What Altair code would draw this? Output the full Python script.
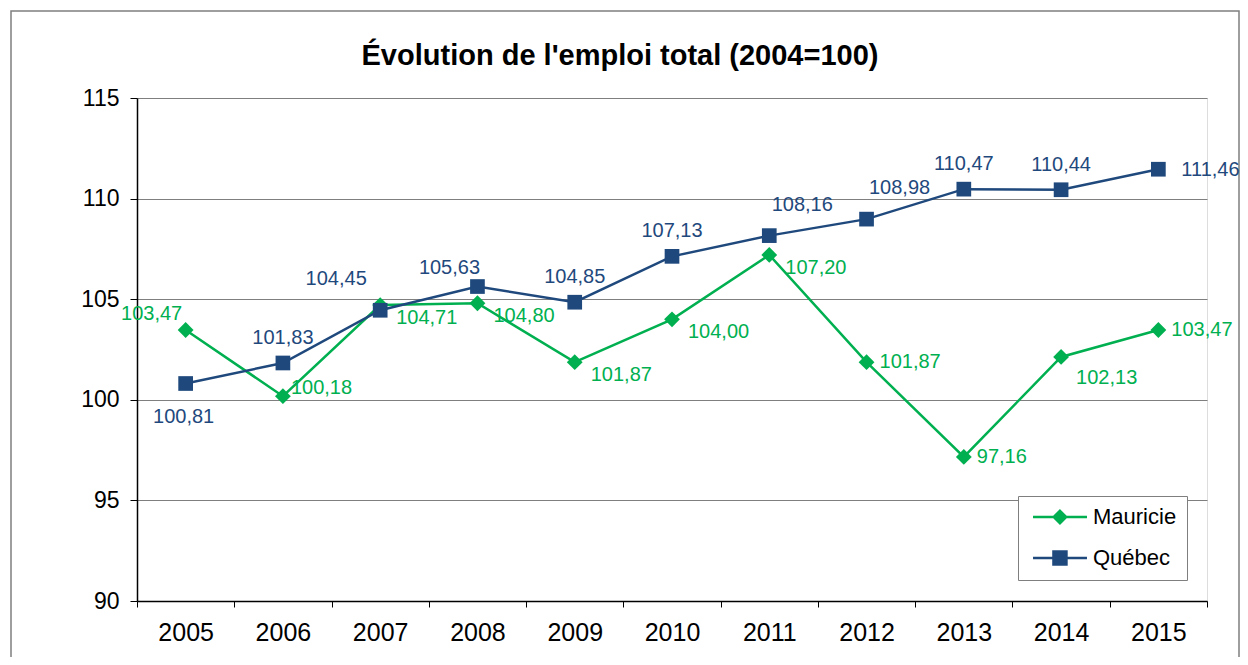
import altair as alt
import pandas as pd

years = ["2005", "2006", "2007", "2008", "2009", "2010", "2011", "2012", "2013", "2014", "2015"]
mauricie = [103.47, 100.18, 104.71, 104.80, 101.87, 104.00, 107.20, 101.87, 97.16, 102.13, 103.47]
quebec = [100.81, 101.83, 104.45, 105.63, 104.85, 107.13, 108.16, 108.98, 110.47, 110.44, 111.46]
series_names = ["Mauricie", "Québec"]
colors = ["#00B050", "#1F497D"]

# label placement style per point
mauricie_pos = ["m_above_left", "m_right_up", "m_right_below", "m_right_below", "m_right_below", "m_right_below",
                "m_right_below", "m_right", "m_right", "m_right_low", "m_right"]
quebec_pos = ["q_below", "q_above", "q_far_left", "q_near_left", "q_above", "q_above",
              "q_above_right", "q_above_right", "q_above", "q_above", "q_right"]
placements = {
    "m_right": ("left", 13, 0),
    "m_right_up": ("left", 8, -8),
    "m_right_below": ("left", 16, 13),
    "m_right_low": ("left", 15, 21),
    "m_above_left": ("center", -34, -16),
    "q_above": ("center", 0, -25),
    "q_below": ("center", -2, 33),
    "q_far_left": ("center", -44, -31),
    "q_near_left": ("center", -28, -19),
    "q_above_right": ("center", 33, -31),
    "q_right": ("left", 23, 1),
}

rows = []
for y, v, p in zip(years, mauricie, mauricie_pos):
    rows.append({"year": y, "value": v, "series": "Mauricie", "pos": p})
for y, v, p in zip(years, quebec, quebec_pos):
    rows.append({"year": y, "value": v, "series": "Québec", "pos": p})
df = pd.DataFrame(rows)

FONT = "Liberation Sans"

x_enc = alt.X("year:N", sort=years, title=None,
              scale=alt.Scale(paddingInner=0, paddingOuter=0),
              axis=alt.Axis(labelAngle=0, labelFontSize=25, labelColor="black", labelFont=FONT,
                            tickBand="extent", tickSize=6, tickColor="black", domainColor="black",
                            domainWidth=1.5, labelPadding=13, grid=False))
y_enc = alt.Y("value:Q", title=None,
              scale=alt.Scale(domain=[90, 115], nice=False, zero=False),
              axis=alt.Axis(values=[90, 95, 100, 105, 110, 115], labelFontSize=23, labelColor="black",
                            labelFont=FONT, tickSize=7, tickColor="black", domainColor="black",
                            domainWidth=1.5, labelPadding=11, gridColor="#7f7f7f", gridWidth=1))
color_scale = alt.Scale(domain=series_names, range=colors)

# legend symbols: line segment with marker (units of sqrt(size)/2)
sym_m = "M-0.69,0L5.54,0M2.42,-0.72L3.14,0L2.42,0.72L1.7,0Z"
sym_q = "M-0.69,0L5.54,0M1.67,-0.76L3.17,-0.76L3.17,0.76L1.67,0.76Z"

base = alt.Chart(df)

lines = base.mark_line(strokeWidth=2.5).encode(
    x=x_enc, y=y_enc,
    color=alt.Color("series:N", scale=color_scale, legend=None),
    detail="series:N",
)

pts_m = base.transform_filter(alt.datum.series == "Mauricie").mark_point(
    filled=True, opacity=1, shape="diamond", size=250).encode(
    x=x_enc, y=y_enc, color=alt.Color("series:N", scale=color_scale, legend=None))
pts_q = base.transform_filter(alt.datum.series == "Québec").mark_point(
    filled=True, opacity=1, shape="square", size=216).encode(
    x=x_enc, y=y_enc, color=alt.Color("series:N", scale=color_scale, legend=None))

leg = alt.Legend(title=None, orient="none", legendX=881, legendY=398,
                 labelFontSize=22, labelFont=FONT, labelColor="black",
                 strokeColor="#7f7f7f", fillColor="white", padding=10,
                 symbolSize=300, symbolStrokeWidth=2.5, rowPadding=17, labelOffset=43,
                 symbolOpacity=1)

legend_layer = base.mark_point(filled=False, size=300, strokeWidth=2.5, opacity=0).encode(
    x=x_enc, y=y_enc,
    color=alt.Color("series:N", scale=color_scale, legend=leg),
    fill=alt.Fill("series:N", scale=color_scale, legend=leg),
    shape=alt.Shape("series:N", scale=alt.Scale(domain=series_names, range=[sym_m, sym_q]), legend=leg),
)

layers = [lines, pts_m, pts_q]
for name, (align, dx, dy) in placements.items():
    t = base.transform_filter(alt.datum.pos == name).transform_calculate(
        label="replace(format(datum.value, '.2f'), '.', ',')"
    ).mark_text(align=align, baseline="middle", dx=dx, dy=dy, fontSize=20, font=FONT).encode(
        x=x_enc, y=y_enc, text="label:N",
        color=alt.Color("series:N", scale=color_scale, legend=None),
    )
    layers.append(t)

frame = alt.Chart(pd.DataFrame({"a": [0]})).mark_rect(fill="transparent", stroke="#7f7f7f", strokeWidth=1.5).encode(
    x=alt.value(-126), x2=alt.value(1102), y=alt.value(-87), y2=alt.value(600)
)

chart = alt.layer(frame, legend_layer, *layers).properties(
    width=1070, height=503,
    title=alt.TitleParams("Évolution de l'emploi total (2004=100)", font=FONT, fontSize=29,
                          fontWeight="bold", color="black", anchor="middle", frame="group",
                          baseline="alphabetic", dx=-52, offset=-84),
    autosize=alt.AutoSizeParams(type="none"),
    padding={"left": 129, "top": 90, "right": 33, "bottom": 56},
).configure_view(stroke="#7f7f7f", strokeWidth=2).configure(background="white")

chart.save("out.html", embed_options={"renderer": "svg", "actions": False})
